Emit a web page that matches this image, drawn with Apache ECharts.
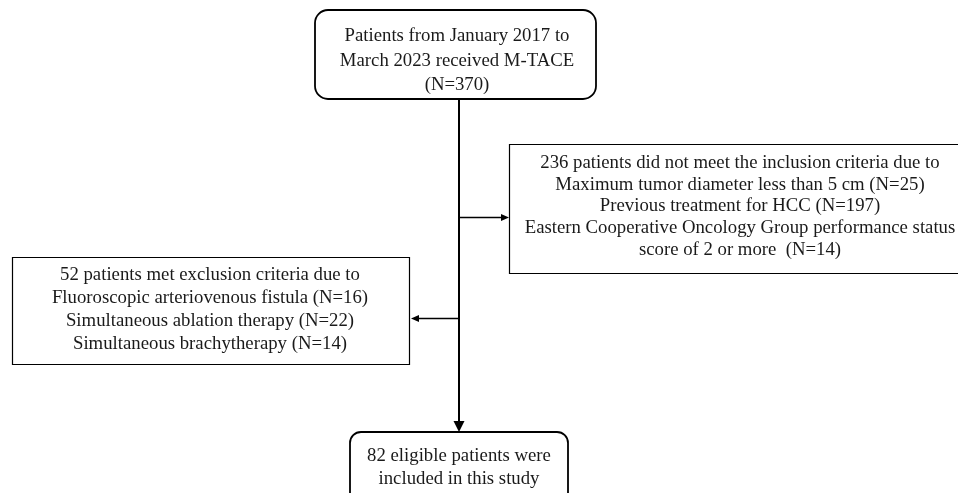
<!DOCTYPE html>
<html>
<head>
<meta charset="utf-8">
<script src="https://cdn.jsdelivr.net/npm/echarts@6/dist/echarts.min.js"></script>
<style>
  html, body { margin: 0; padding: 0; background: #fff; }
  #chart { width: 958px; height: 493px; }
</style>
</head>
<body>
<div id="chart"></div>
<script>
// patient counts
const screenedN = 370
const notMetReasons = [
  'Maximum tumor diameter less than 5 cm',
  'Previous treatment for HCC',
  'Eastern Cooperative Oncology Group performance status\nscore of 2 or more '
]
const notMetCounts = [25, 197, 14]
const excludedReasons = [
  'Fluoroscopic arteriovenous fistula',
  'Simultaneous ablation therapy',
  'Simultaneous brachytherapy'
]
const excludedCounts = [16, 22, 14]
const includedN = 82

const sum = arr => arr.reduce((a, b) => a + b, 0)

const boxTexts = [
  'Patients from January 2017 to\nMarch 2023 received M-TACE\n(N=' + screenedN + ')',
  sum(notMetCounts) + ' patients did not meet the inclusion criteria due to\n' +
    notMetReasons.map((r, i) => r + ' (N=' + notMetCounts[i] + ')').join('\n'),
  sum(excludedCounts) + ' patients met exclusion criteria due to\n' +
    excludedReasons.map((r, i) => r + ' (N=' + excludedCounts[i] + ')').join('\n'),
  includedN + ' eligible patients were\nincluded in this study'
]

// layout of the boxes (pixel units of the hidden axes)
const boxes = [
  { x0: 315, x1: 596, y0: 10, y1: 99, r: 13, lw: 1.8, tx: 457, ty: 61, lh: 24.5 },
  { x0: 509.5, x1: 972, y0: 144.5, y1: 273.5, r: 0, lw: 1.2, tx: 740, ty: 206.5, lh: 21.6 },
  { x0: 12.5, x1: 409.5, y0: 257.5, y1: 364.5, r: 0, lw: 1.2, tx: 210, ty: 309.5, lh: 23 },
  { x0: 350, x1: 568, y0: 432, y1: 506, r: 11, lw: 1.8, tx: 459, ty: 467.5, lh: 23 }
]

const connectors = [
  { from: [459, 99], to: [459, 432], lw: 2, hl: 11, hw: 11 },
  { from: [460, 217.5], to: [509, 217.5], lw: 1.3, hl: 8, hw: 7 },
  { from: [459, 318.5], to: [411, 318.5], lw: 1.3, hl: 8, hw: 7 }
]

const chart = echarts.init(document.getElementById('chart'))

const option = {
  animation: false,
  backgroundColor: '#fff',
  grid: { left: 0, right: 0, top: 0, bottom: 0 },
  xAxis: { type: 'value', min: 0, max: 958, show: false },
  yAxis: { type: 'value', min: 0, max: 493, inverse: true, show: false },
  series: [
    {
      type: 'custom',
      silent: true,
      data: connectors.map((c, i) => [i]),
      renderItem: (params, api) => {
        const c = connectors[api.value(0)]
        const p0 = api.coord(c.from)
        const p1 = api.coord(c.to)
        const dx = p1[0] - p0[0], dy = p1[1] - p0[1]
        const len = Math.sqrt(dx * dx + dy * dy)
        const ux = dx / len, uy = dy / len
        const bx = p1[0] - ux * c.hl, by = p1[1] - uy * c.hl
        return {
          type: 'group',
          children: [
            {
              type: 'line',
              shape: { x1: p0[0], y1: p0[1], x2: bx, y2: by },
              style: { stroke: '#000', lineWidth: c.lw }
            },
            {
              type: 'polygon',
              shape: {
                points: [
                  p1,
                  [bx - uy * c.hw / 2, by + ux * c.hw / 2],
                  [bx + uy * c.hw / 2, by - ux * c.hw / 2]
                ]
              },
              style: { fill: '#000' }
            }
          ]
        }
      }
    },
    {
      type: 'custom',
      silent: true,
      data: boxes.map((b, i) => [i]),
      renderItem: (params, api) => {
        const i = api.value(0)
        const b = boxes[i]
        const a = api.coord([b.x0, b.y0])
        const z = api.coord([b.x1, b.y1])
        const t = api.coord([b.tx, b.ty])
        return {
          type: 'group',
          children: [
            {
              type: 'rect',
              shape: { x: a[0], y: a[1], width: z[0] - a[0], height: z[1] - a[1], r: b.r },
              style: { fill: '#fff', stroke: '#000', lineWidth: b.lw }
            },
            {
              type: 'text',
              style: {
                text: boxTexts[i],
                x: t[0],
                y: t[1],
                align: 'center',
                verticalAlign: 'middle',
                fontFamily: '"Liberation Serif", "Times New Roman", serif',
                fontSize: 18.75,
                lineHeight: b.lh,
                fill: '#1a1a1a'
              }
            }
          ]
        }
      }
    }
  ]
}

chart.setOption(option)
window.addEventListener('resize', () => chart.resize())
</script>
</body>
</html>
